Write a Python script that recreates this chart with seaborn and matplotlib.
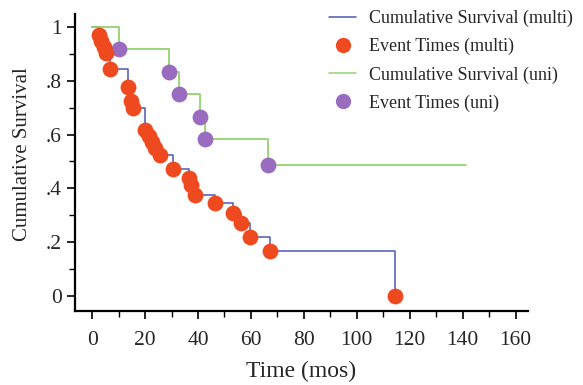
import matplotlib
matplotlib.use("Agg")
import matplotlib.pyplot as plt
from matplotlib.lines import Line2D
from matplotlib.ticker import MultipleLocator
import seaborn as sns
import pandas as pd

# multi: event times (mos) and cumulative survival after each event
multi_time = [2.5, 3.3, 4.4, 5.2, 6.7, 13.5, 14.6, 15.4, 19.9, 21.4, 22.6, 23.7,
              25.6, 30.5, 36.5, 37.3, 38.8, 46.4, 53.2, 56.2, 59.6, 67.2, 114.4]
multi_surv = [0.97, 0.948, 0.926, 0.903, 0.844, 0.777, 0.725, 0.699, 0.617, 0.595,
              0.572, 0.55, 0.524, 0.472, 0.439, 0.413, 0.375, 0.346, 0.309, 0.271,
              0.219, 0.167, 0.0]

# uni
uni_time = [10.1, 29.0, 32.8, 40.7, 42.6, 66.4]
uni_surv = [0.917, 0.833, 0.75, 0.667, 0.583, 0.486]
uni_last_time = 141.2

yticks = [0, 0.2, 0.4, 0.6, 0.8, 1.0]
ytick_labels = ["0", ".2", ".4", ".6", ".8", "1"]
xticks = [0, 20, 40, 60, 80, 100, 120, 140, 160]

blue = "#4c59b8"
orange = "#ef4a1f"
green = "#93d26e"
purple = "#9a6cc0"

multi_curve = pd.DataFrame({"t": [0] + multi_time, "s": [1.0] + multi_surv})
uni_curve = pd.DataFrame({"t": [0] + uni_time + [uni_last_time],
                          "s": [1.0] + uni_surv + [uni_surv[-1]]})

sns.set_style("white")
plt.rcParams["font.family"] = ["Liberation Serif", "DejaVu Serif"]

fig = plt.figure(figsize=(5.83, 3.85), dpi=100)
ax = fig.add_axes([0.1286, 0.192, 0.777, 0.7716])

sns.lineplot(data=multi_curve, x="t", y="s", drawstyle="steps-post", color=blue,
             lw=1.1, ax=ax, sort=False, estimator=None)
sns.lineplot(data=uni_curve, x="t", y="s", drawstyle="steps-post", color=green,
             lw=1.3, ax=ax, sort=False, estimator=None)
sns.scatterplot(x=uni_time, y=uni_surv, color=purple, s=130, linewidth=0, ax=ax, zorder=3)
sns.scatterplot(x=multi_time, y=multi_surv, color=orange, s=130, linewidth=0, ax=ax, zorder=4)

ax.set_xlim(-6.5, 164.7)
ax.set_ylim(-0.056, 1.048)
ax.set_xticks(xticks)
ax.set_yticks(yticks)
ax.set_yticklabels(ytick_labels)
ax.xaxis.set_minor_locator(MultipleLocator(10))
ax.yaxis.set_minor_locator(MultipleLocator(0.1))
ax.tick_params(which="major", direction="out", length=6, width=1.2, labelsize=15.5,
               color="black", bottom=True, left=True)
ax.tick_params(which="minor", direction="out", length=4, width=1.0, color="black",
               bottom=True, left=True)
ax.tick_params(axis="x", which="major", pad=8)
for side in ["top", "right"]:
    ax.spines[side].set_visible(False)
for side in ["left", "bottom"]:
    ax.spines[side].set_color("black")
    ax.spines[side].set_linewidth(1.6)

ax.set_xlabel("Time (mos)", fontsize=17, labelpad=8)
ax.set_ylabel("Cumulative Survival", fontsize=15)
ax.yaxis.set_label_coords(-0.095, 0.53)

handles = [
    Line2D([], [], color=blue, lw=1.1),
    Line2D([], [], color=orange, marker="o", ls="none", markersize=11, markeredgewidth=0),
    Line2D([], [], color=green, lw=1.1),
    Line2D([], [], color=purple, marker="o", ls="none", markersize=11, markeredgewidth=0),
]
labels = ["Cumulative Survival (multi)", "Event Times (multi)",
          "Cumulative Survival (uni)", "Event Times (uni)"]
ax.legend(handles, labels, loc="upper left", bbox_to_anchor=(0.552, 0.993),
          bbox_transform=fig.transFigure, borderaxespad=0, frameon=False,
          fontsize=13, handlelength=1.5, labelspacing=0.6, handletextpad=0.7)

fig.savefig("out.png", dpi=100)
